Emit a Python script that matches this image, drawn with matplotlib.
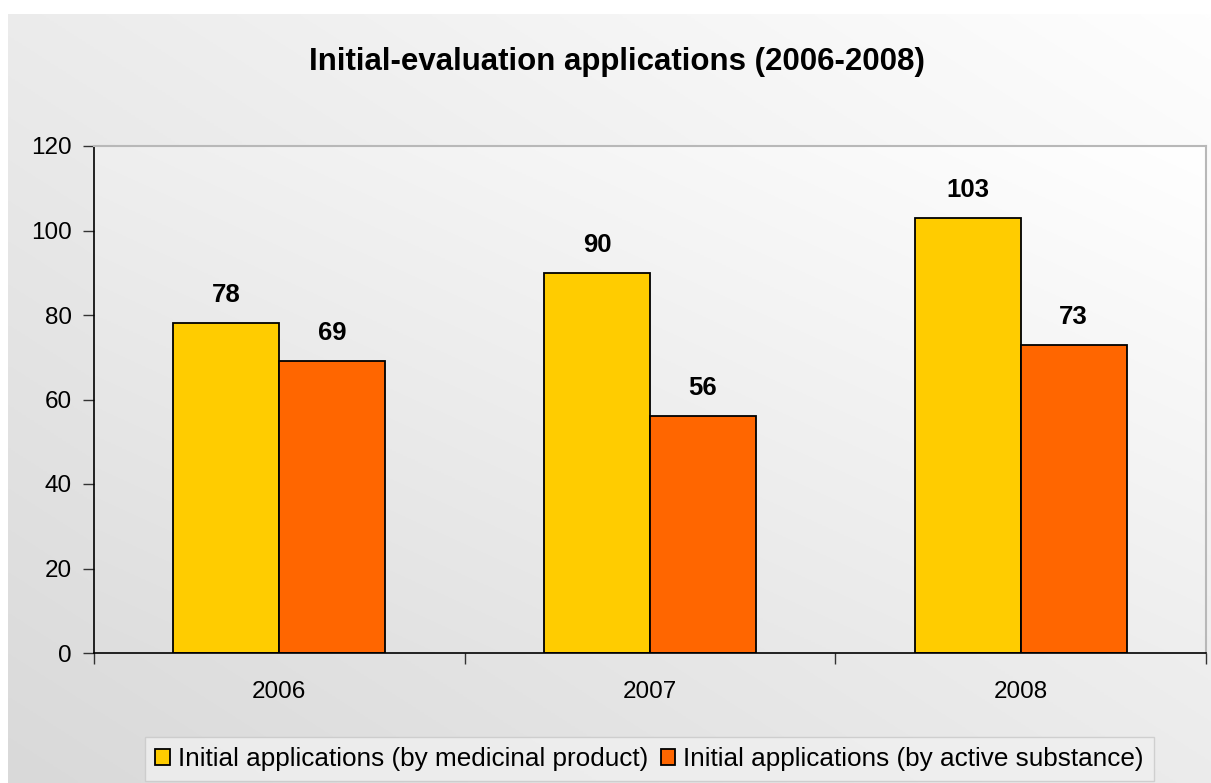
import numpy as np
import matplotlib
matplotlib.use("Agg")
import matplotlib.pyplot as plt
from matplotlib.colors import LinearSegmentedColormap
from matplotlib.patches import Patch

plt.rcParams['font.family'] = ['Liberation Sans', 'DejaVu Sans']

title = "Initial-evaluation applications (2006-2008)"
years = ["2006", "2007", "2008"]
series_names = ["Initial applications (by medicinal product)",
                "Initial applications (by active substance)"]
medicinal = [78, 90, 103]
active = [69, 56, 73]
colors = ["#FFCC00", "#FF6600"]
yticks = [0, 20, 40, 60, 80, 100, 120]

W, H = 1211, 783
fig = plt.figure(figsize=(W / 100, H / 100), dpi=100)
fig.patch.set_facecolor("white")

def diag_gradient(c_light, c_dark, n=300):
    x = np.linspace(0, 1, n)
    y = np.linspace(0, 1, n)
    X, Y = np.meshgrid(x, y)
    t = ((1 - X) + Y) / 2.0
    cmap = LinearSegmentedColormap.from_list("g", [c_light, c_dark])
    return t, cmap

# Background panel
bg = fig.add_axes([8 / W, 0, 1 - 8 / W, 1 - 14 / H], zorder=0)
t, cm = diag_gradient("#fefefe", "#d9d9d9")
bg.imshow(t, cmap=cm, aspect="auto", extent=[0, 1, 0, 1], origin="upper", interpolation="bilinear")
bg.set_axis_off()

# Main plot area
L, R, T, B = 94, 1206, 146, 653
ax = fig.add_axes([L / W, 1 - B / H, (R - L) / W, (B - T) / H], zorder=1)
ax.set_facecolor("none")
t2, cm2 = diag_gradient("#ffffff", "#dedede")
ax.imshow(t2, cmap=cm2, aspect="auto", extent=[-0.5, 2.5, 0, 120], origin="upper",
          interpolation="bilinear", zorder=0)

x = np.arange(len(years))
bw = 1 / 3.5
b1 = ax.bar(x - bw / 2, medicinal, bw, color=colors[0], edgecolor="black", linewidth=1.3, zorder=2)
b2 = ax.bar(x + bw / 2, active, bw, color=colors[1], edgecolor="black", linewidth=1.3, zorder=2)

for bars, vals in ((b1, medicinal), (b2, active)):
    for rect, v in zip(bars, vals):
        ax.text(rect.get_x() + rect.get_width() / 2, v + 3.8, str(v), ha="center", va="bottom",
                fontsize=18.5, fontweight="bold", zorder=3)

ax.set_xlim(-0.5, 2.5)
ax.set_ylim(0, 120)
ax.set_yticks(yticks)
ax.set_yticklabels([str(v) for v in yticks], fontsize=17.5)
ax.tick_params(axis="y", direction="out", length=8, width=1, pad=8, color="#333333")
ax.set_xticks([-0.5, 0.5, 1.5, 2.5])
ax.set_xticklabels([])
ax.tick_params(axis="x", direction="out", length=8, width=1, color="#333333")
ax.set_xticks(x, minor=True)
ax.set_xticklabels(years, minor=True, fontsize=17.5)
ax.tick_params(axis="x", which="minor", length=0, pad=20)

for s in ("top", "right"):
    ax.spines[s].set_color("#b8b8b8")
    ax.spines[s].set_linewidth(1.5)
for s in ("left", "bottom"):
    ax.spines[s].set_color("black")
    ax.spines[s].set_linewidth(1.2)

fig.text((305 + 928) / 2 / W, 1 - 62 / H, title, ha="center", va="center", fontsize=22.5, fontweight="bold")

handles = [Patch(facecolor=colors[0], edgecolor="black", linewidth=1.3),
           Patch(facecolor=colors[1], edgecolor="black", linewidth=1.3)]
leg = fig.legend(handles, series_names, loc="center", bbox_to_anchor=((147 + 1152) / 2 / W, 1 - 759 / H),
                 ncol=2, fontsize=18.8, frameon=True, fancybox=False, handlelength=0.55, handleheight=0.55,
                 handletextpad=0.3, columnspacing=0.5, borderpad=0.4, borderaxespad=0)
leg.get_frame().set_edgecolor("#c8c8c8")
leg.get_frame().set_facecolor("#f0f0f0")
leg.get_frame().set_linewidth(1.0)

fig.savefig("out.png", dpi=100)
